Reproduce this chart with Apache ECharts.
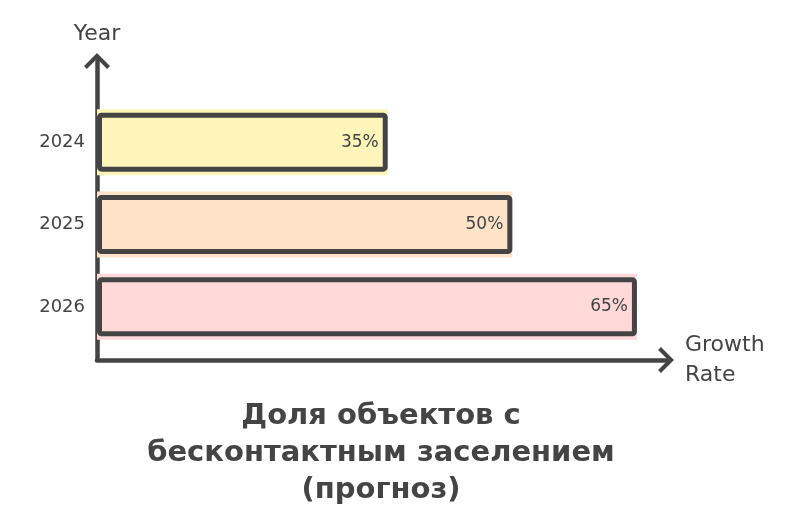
<!DOCTYPE html>
<html>
<head>
<meta charset="utf-8">
<script src="https://cdn.jsdelivr.net/npm/echarts@6/dist/echarts.min.js"></script>
<style>html,body{margin:0;padding:0;background:#fff}#c{width:787px;height:521px}</style>
</head>
<body>
<div id="c"></div>
<script>
var years = ['2024', '2025', '2026'];
var growth = [35, 50, 65];
var fillColors = ['#fff5bb', '#fee3c8', '#ffd8d8'];
var titleText = 'Доля объектов с\nбесконтактным заселением\n(прогноз)';
var xName = 'Growth\nRate';
var yName = 'Year';

var ink = '#444444';
var font = 'DejaVu Sans';
var chevron = 'path://M13.5 0 L27 13.5 L24 16.5 L13.5 6 L3 16.5 L0 13.5 Z';
var chart = echarts.init(document.getElementById('c'));
chart.setOption({
  backgroundColor: '#ffffff',
  animation: false,
  title: {
    text: titleText,
    left: 376,
    top: 393,
    textAlign: 'center',
    textStyle: { fontFamily: font, fontWeight: 'bold', fontSize: 29, lineHeight: 37, color: ink }
  },
  grid: [
    { left: 97, right: 121, top: 61, bottom: 161 },
    { left: 97, right: 121, top: 101, bottom: 173 }
  ],
  xAxis: [
    {
      gridIndex: 0, type: 'value', min: 0, max: 68.5,
      name: xName, nameLocation: 'end', nameGap: 19,
      nameTextStyle: { fontFamily: font, fontSize: 22, color: ink, lineHeight: 30, align: 'left', verticalAlign: 'middle', padding: [4, 0, 0, 0] },
      axisLine: { show: true, symbol: ['none', chevron], symbolSize: [26, 16], lineStyle: { color: ink, width: 4.5, cap: 'round' } },
      axisTick: { show: false }, axisLabel: { show: false }, splitLine: { show: false }
    },
    {
      gridIndex: 1, type: 'value', min: 0, max: 68.5, show: false
    }
  ],
  yAxis: [
    {
      gridIndex: 0, type: 'value', min: 0, max: 1,
      name: yName, nameLocation: 'end', nameGap: 16,
      nameTextStyle: { fontFamily: font, fontSize: 22, color: ink, align: 'center' },
      axisLine: { show: true, symbol: ['none', chevron], symbolSize: [26, 16], lineStyle: { color: ink, width: 4.5, cap: 'round' } },
      axisTick: { show: false }, axisLabel: { show: false }, splitLine: { show: false }
    },
    {
      gridIndex: 1, type: 'category', data: years, inverse: true,
      axisLine: { show: false }, axisTick: { show: false },
      axisLabel: { fontFamily: font, fontSize: 18, color: ink, margin: 12 }
    },
    {
      gridIndex: 1, type: 'category', data: years, inverse: true, show: false
    }
  ],
  series: [
    {
      type: 'bar', xAxisIndex: 1, yAxisIndex: 2, barWidth: 66, silent: true,
      data: growth.map(function (v, i) { return { value: v, itemStyle: { color: fillColors[i] } }; }),
      z: 1
    },
    {
      type: 'bar', xAxisIndex: 1, yAxisIndex: 1, barWidth: 59,
      data: growth,
      itemStyle: { color: 'rgba(0,0,0,0)', borderColor: ink, borderWidth: 5, borderRadius: 2 },
      label: {
        show: true, position: 'insideRight', distance: 9,
        formatter: '{c}%', fontFamily: font, fontSize: 17, color: ink
      },
      z: 3
    }
  ]
});
</script>
</body>
</html>
